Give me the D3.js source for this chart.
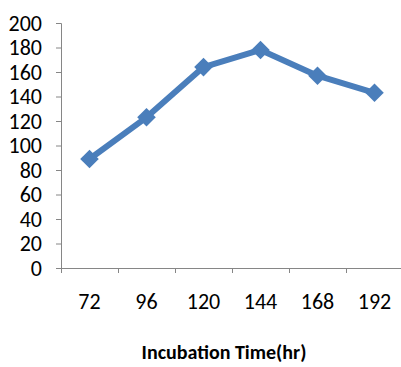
<!DOCTYPE html>
<html lang="en">
<head>
  <meta charset="UTF-8">
  <title>Incubation Time</title>
  <script src="https://d3js.org/d3.v7.min.js"></script>
</head>
<body style="margin: 0; background: #fff;">
<div id="chart"></div>
<script>
  // data
  const hours = ["72", "96", "120", "144", "168", "192"];
  const values = [89, 123, 164, 178, 157, 143];
  const yTicks = [0, 20, 40, 60, 80, 100, 120, 140, 160, 180, 200];
  const xTitle = "Incubation Time(hr)";

  const width = 401, height = 367;
  const margin = { top: 23, left: 61, bottom: 99 };
  const plotW = 342; // 6 categories, runs past the right edge like the original
  const innerH = height - margin.top - margin.bottom;

  const font = "Carlito, 'Liberation Sans Narrow', 'Open Sans', sans-serif";

  const svg = d3.select("#chart").append("svg")
    .attr("width", width)
    .attr("height", height)
    .style("display", "block");

  const g = svg.append("g")
    .attr("transform", `translate(${margin.left},${margin.top})`);

  const x = d3.scaleBand().domain(hours).range([0, plotW]).padding(0);
  const y = d3.scaleLinear().domain([0, 200]).range([innerH, 0]);

  // y axis
  const yAxis = g.append("g")
    .call(d3.axisLeft(y).tickValues(yTicks).tickSize(5).tickPadding(14));
  yAxis.selectAll("line, path").attr("stroke", "#868686");
  yAxis.select(".domain").attr("d", `M-5,0.5H0.5V${innerH}`);
  yAxis.selectAll("text")
    .style("font-family", font)
    .style("font-size", "22px")
    .attr("fill", "#000");

  // x axis: tick marks on category boundaries
  const xb = d3.scaleLinear().domain([0, hours.length]).range([0, plotW]);
  const xAxisTicks = g.append("g")
    .attr("transform", `translate(0,${innerH})`)
    .call(d3.axisBottom(xb).tickValues(d3.range(hours.length + 1)).tickFormat("").tickSize(5).tickSizeOuter(0));
  xAxisTicks.selectAll("line, path").attr("stroke", "#868686");

  // x labels at category centres
  const xAxisLabels = g.append("g")
    .attr("transform", `translate(0,${innerH})`)
    .call(d3.axisBottom(x).tickSize(0).tickPadding(25));
  xAxisLabels.select(".domain").remove();
  xAxisLabels.selectAll("text")
    .style("font-family", font)
    .style("font-size", "22px")
    .attr("fill", "#000");

  // line
  const pts = hours.map((h, i) => ({ h, v: values[i] }));
  const line = d3.line()
    .x(d => x(d.h) + x.bandwidth() / 2)
    .y(d => y(d.v));

  g.append("path")
    .datum(pts)
    .attr("fill", "none")
    .attr("stroke", "#4a7ebb")
    .attr("stroke-width", 6)
    .attr("stroke-linejoin", "round")
    .attr("d", line);

  // diamond markers
  const diamond = d3.symbol().type(d3.symbolDiamond2).size(220);
  g.selectAll(".marker")
    .data(pts)
    .enter().append("path")
    .attr("class", "marker")
    .attr("transform", d => `translate(${x(d.h) + x.bandwidth() / 2},${y(d.v)})`)
    .attr("d", diamond)
    .attr("fill", "#4a7ebb");

  // axis title
  svg.append("text")
    .attr("x", 224)
    .attr("y", 359)
    .attr("text-anchor", "middle")
    .style("font-family", font)
    .style("font-size", "20px")
    .style("font-weight", "bold")
    .text(xTitle);
</script>
</body>
</html>
